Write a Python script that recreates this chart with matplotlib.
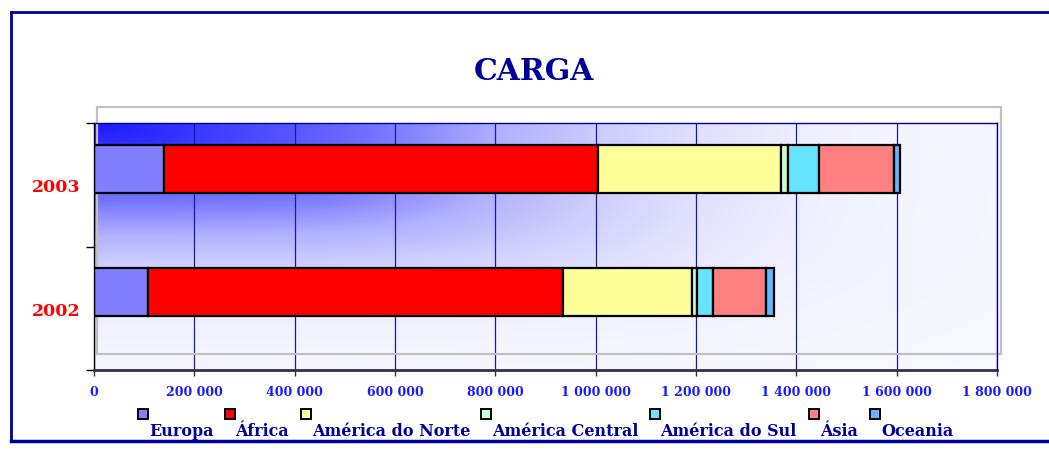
import numpy as np
import matplotlib
matplotlib.use("Agg")
import matplotlib.pyplot as plt
from matplotlib.patches import Rectangle
from matplotlib.lines import Line2D

# ---- data ----
years = ["2002", "2003"]
regions = ["Europa", "África", "América do Norte", "América Central",
           "América do Sul", "Ásia", "Oceania"]
europa = [107000, 139000]
africa = [828000, 866000]
am_norte = [258000, 365000]
am_central = [8000, 14000]
am_sul = [33000, 61000]
asia = [106000, 149000]
oceania = [15000, 12000]
series = [europa, africa, am_norte, am_central, am_sul, asia, oceania]
colors = ["#8080ff", "#ff0000", "#ffff99", "#ccffcc", "#66e3ff", "#ff8080", "#66b3ff"]
xticks = [0, 200000, 400000, 600000, 800000, 1000000, 1200000, 1400000, 1600000, 1800000]
xticklabels = ["0", "200 000", "400 000", "600 000", "800 000", "1 000 000",
               "1 200 000", "1 400 000", "1 600 000", "1 800 000"]

W, H = 1049, 452
fig = plt.figure(figsize=(W / 100, H / 100), dpi=100)
fig.patch.set_facecolor("white")

def fx(px):
    return px / W

def fy(py):
    return 1 - py / H

ax = fig.add_axes([fx(94), fy(371), (997 - 94) / W, (371 - 124) / H])

# gradient background (from top-left corner)
nx, ny = 400, 200
u = np.linspace(0, 1, nx)[None, :]
v = np.linspace(0, 1, ny)[:, None]
p = 4.0
d = (u ** p + v ** p) ** (1 / p)
dp = [0.0, 0.23, 0.31, 0.45, 0.56, 0.67, 0.78, 0.9, 1.5]
lp = [0.10, 0.35, 0.45, 0.69, 0.80, 0.88, 0.93, 0.96, 0.99]
L = np.interp(d, dp, lp)
img = np.dstack([L, L, np.ones_like(L)])
ax.imshow(img, extent=[0, 1, 0, 1], transform=ax.transAxes, aspect="auto",
          zorder=0, origin="upper", interpolation="bilinear")

# grey plot-area frame (offset, as in original)
fig_rect = Rectangle((fx(96.5), fy(354.5)), fx(1000.5) - fx(96.5), fy(108) - fy(354.5),
                     transform=fig.transFigure, fill=False, edgecolor="#c0c0c0",
                     lw=1.6, zorder=0.8, clip_on=False)
ax.add_artist(fig_rect)

# bars
ypos = np.arange(len(years)) + 0.13
left = np.zeros(len(years))
for vals, col, name in zip(series, colors, regions):
    ax.barh(ypos, vals, left=left, height=0.39, color=col, edgecolor="black",
            linewidth=1.6, zorder=2, label=name)
    left = left + np.array(vals)

ax.set_xlim(0, 1800000)
ax.set_ylim(-0.5, 1.5)

ax.set_axisbelow(True)
ax.xaxis.grid(True, color="#1a1aa0", lw=0.9, zorder=0.5)
ax.yaxis.grid(False)

ax.set_xticks(xticks)
ax.set_xticklabels(xticklabels, fontsize=9, fontweight="bold", family="DejaVu Serif",
                   color="#1a1aff")
ax.tick_params(axis="x", length=4, width=1, color="#303050", pad=6.5)

ax.set_yticks([-0.5, 0.5, 1.5])
ax.set_yticklabels([])
ax.set_yticks([0, 1], minor=True)
ax.set_yticklabels(years, minor=True, fontsize=12.5, fontweight="bold",
                   family="DejaVu Serif", color="#ff0000")
ax.tick_params(axis="y", which="major", length=6, width=1, color="black")
ax.tick_params(axis="y", which="minor", length=0, pad=10)

for s in ["top", "right"]:
    ax.spines[s].set_color("#0000a0")
    ax.spines[s].set_linewidth(1)
ax.spines["left"].set_color("black")
ax.spines["left"].set_linewidth(1)
ax.spines["bottom"].set_color("#303050")
ax.spines["bottom"].set_linewidth(2)

# title
fig.text(fx(533.5), fy(71), "CARGA", ha="center", va="center", fontsize=21.5,
         fontweight="bold", family="DejaVu Serif", color="#000099")

# legend (marker above-left of label, as in original)
marker_x = [143, 229.5, 306, 486, 654.5, 814, 875]
for mx, col, name in zip(marker_x, colors, regions):
    sq = Rectangle((fx(mx - 5), fy(420)), fx(10), fy(410) - fy(420),
                   transform=fig.transFigure, facecolor=col, edgecolor="black",
                   lw=1.4, clip_on=False)
    fig.add_artist(sq)
    fig.text(fx(mx + 6), fy(432), name, ha="left", va="center", fontsize=11.5,
             fontweight="bold", family="DejaVu Serif", color="#000099")

# outer border
border_col = "#0000a0"
fig.add_artist(Line2D([fx(10.5), 1.0], [fy(13), fy(13)], transform=fig.transFigure,
                      color=border_col, lw=2))
fig.add_artist(Line2D([fx(10.5), fx(10.5)], [fy(13), fy(442)], transform=fig.transFigure,
                      color=border_col, lw=2))
fig.add_artist(Line2D([fx(10.5), 1.0], [fy(441.5), fy(441.5)], transform=fig.transFigure,
                      color=border_col, lw=2.5))

fig.savefig("out.png", dpi=100, facecolor="white")
